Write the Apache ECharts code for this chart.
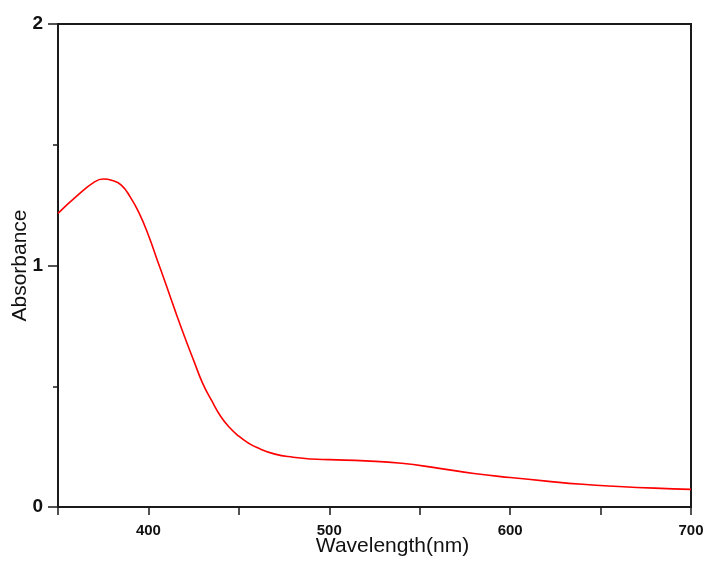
<!DOCTYPE html>
<html>
<head>
<meta charset="utf-8">
<script src="https://cdn.jsdelivr.net/npm/echarts@6/dist/echarts.min.js"></script>
<style>html,body{margin:0;padding:0;background:#fff;}#c{width:706px;height:561px;}</style>
</head>
<body>
<div id="c"></div>
<script>
var wavelengths = [350, 360, 370, 375, 380, 385, 390, 395, 400, 405, 410, 415, 420, 425, 430, 435, 440, 445, 450, 455, 460, 470, 480, 490, 500, 520, 540, 560, 580, 600, 620, 640, 660, 680, 700];
var absorbance = [1.216, 1.285, 1.345, 1.358, 1.352, 1.333, 1.283, 1.215, 1.125, 1.02, 0.915, 0.808, 0.705, 0.607, 0.512, 0.44, 0.375, 0.328, 0.293, 0.266, 0.246, 0.219, 0.206, 0.199, 0.196, 0.191, 0.181, 0.161, 0.139, 0.122, 0.107, 0.094, 0.085, 0.078, 0.073];
var xTickLabels = [400, 500, 600, 700];
var yTickLabels = [0, 1, 2];

var chart = echarts.init(document.getElementById('c'));
var pts = wavelengths.map(function (w, i) { return [w, absorbance[i]]; });
var axisColor = '#1a1a1a';
chart.setOption({
  backgroundColor: '#ffffff',
  animation: false,
  grid: { left: 58, right: 15, top: 24, bottom: 54, containLabel: false, outerBoundsMode: 'none', show: true, borderColor: axisColor, borderWidth: 2, backgroundColor: 'transparent' },
  xAxis: {
    type: 'value', min: 350, max: 700, interval: 50,
    name: 'Wavelength(nm)', nameLocation: 'middle', nameGap: 29, nameMoveOverlap: false,
    nameTextStyle: { fontFamily: 'Liberation Sans', fontSize: 21, color: '#111', padding: [0, 0, 0, 36] },
    axisLine: { show: true, lineStyle: { color: axisColor, width: 2 } },
    axisTick: { show: true, length: 8, lineStyle: { color: axisColor, width: 1.5 } },
    splitLine: { show: false },
    axisLabel: {
      margin: 16, fontFamily: 'Liberation Sans', fontWeight: 'bold', fontSize: 15, color: '#111',
      formatter: function (v) { return xTickLabels.indexOf(v) >= 0 ? String(v) : ''; }
    }
  },
  yAxis: {
    type: 'value', min: 0, max: 2, interval: 1,
    name: 'Absorbance', nameLocation: 'middle', nameGap: 27, nameRotate: 90, nameMoveOverlap: false,
    nameTextStyle: { fontFamily: 'Liberation Sans', fontSize: 21, color: '#111' },
    axisLine: { show: true, lineStyle: { color: axisColor, width: 2 } },
    axisTick: { show: true, length: 10, lineStyle: { color: axisColor, width: 1.5 } },
    minorTick: { show: true, splitNumber: 2, length: 5, lineStyle: { color: axisColor, width: 1.5 } },
    splitLine: { show: false },
    axisLabel: {
      margin: 15, fontFamily: 'Liberation Sans', fontWeight: 'bold', fontSize: 19, color: '#111',
      formatter: function (v) { return yTickLabels.indexOf(v) >= 0 ? String(v) : ''; }
    }
  },
  series: [{
    type: 'line', data: pts, smooth: 0.5, showSymbol: false, symbol: 'none',
    lineStyle: { color: '#ff0000', width: 1.6 }
  }]
});
</script>
</body>
</html>
